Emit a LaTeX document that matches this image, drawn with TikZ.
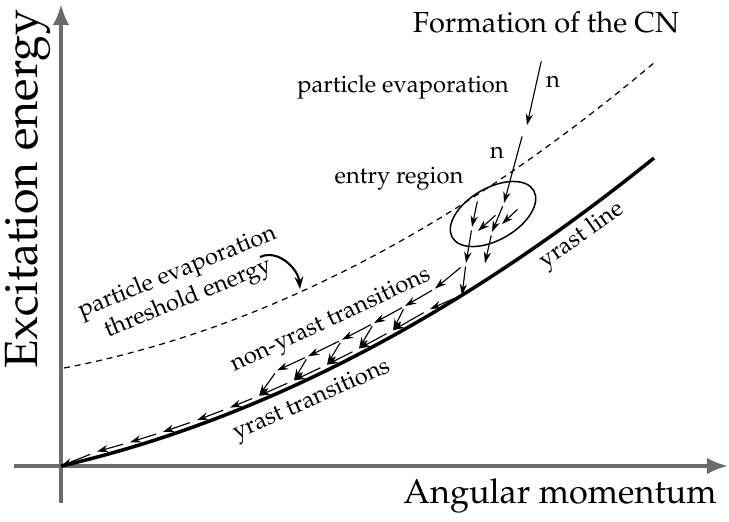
\documentclass[tikz,border=0pt]{standalone}
\usepackage[T1]{fontenc}
\usepackage{mathpazo}
\usetikzlibrary{arrows.meta}
\definecolor{axisgray}{HTML}{6B6B6B}
\tikzset{
  declare function={yr(\x)=466-23.08*((\x-61)/100)-4.87*((\x-61)/100)^2;},
  lbl/.style={font=\fontsize{13.5}{16}\selectfont},
  axlbl/.style={font=\fontsize{19.5}{22}\selectfont},
  axis/.style={draw=axisgray,line width=2.2pt,-{Latex[length=12pt,width=9.5pt]}},
  gam/.style={line width=0.65pt,shorten <=2pt,-{Stealth[length=6.4pt,width=4.2pt]}},
  ygam/.style={gam,shorten <=4.2pt},
}
\begin{document}
\begin{tikzpicture}[x=0.2mm,y=-0.2mm]
  \useasboundingbox (0,0) rectangle (729,521);
  % axes
  \coordinate (O) at (61,466);
  \coordinate (ybot) at (61,503);
  \coordinate (ytop) at (61,4);
  \coordinate (xleft) at (14,466);
  \coordinate (xright) at (728,466);
  \draw[axis] (ybot) -- (ytop);
  \draw[axis] (xleft) -- (xright);
  \node[axlbl,font=\fontsize{26.5}{30}\selectfont,rotate=90] (elbl) at (28,189) {Excitation energy};
  \node[axlbl] (jlbl) at (560,496) {Angular momentum};
  % yrast line and evaporation threshold
  \draw[line width=2pt] (O) .. controls (258.7,420.4) and (456.3,317.7) .. (654,158);
  \draw[line width=0.7pt,dash pattern=on 3.4pt off 2.8pt]
    (64,368) .. controls (261,330.4) and (458,228.4) .. (655,62);
  % labels
  \node[font=\fontsize{16.5}{19}\selectfont] (cn) at (546,22) {Formation of the CN};
  \node[lbl] (pe) at (403,87) {particle evaporation};
  \node[lbl] (n1) at (553,82) {n};
  \node[lbl] (n2) at (497,153) {n};
  \node[lbl] (entry) at (399,179) {entry region};
  \node[lbl,rotate=22,align=center] (thr) at (183,286) {particle evaporation\\threshold energy};
  \node[lbl,rotate=25] (nonyr) at (331,321) {non-yrast transitions};
  \node[lbl,rotate=24] (yrtr) at (312,401) {yrast transitions};
  \node[lbl,rotate=35] (yrl) at (582,236) {yrast line};
  \draw[line width=1.2pt,-{Stealth[length=7pt,width=5pt]}] (260,257) to[out=25,in=95] (300,289);
  % entry region
  \draw[line width=0.85pt,rotate around={30:(493,214)}] (493,214) ellipse[x radius=47,y radius=26];
  % neutron emission
  \coordinate (N0) at (542,58);
  \coordinate (N1) at (527,125);
  \coordinate (N2) at (523,133);
  \coordinate (N3) at (504,203);
  \draw[gam] (N0) -- (N1);
  \draw[gam] (N2) -- (N3);
  % gammas inside the entry region
  \coordinate (A0) at (478,198);
  \coordinate (A1) at (472,227);
  \coordinate (B0) at (498,213);
  \coordinate (B1) at (478,231);
  \coordinate (C1) at (492,232);
  \coordinate (D0) at (520,207);
  \coordinate (D1) at (502,224);
  \coordinate (E1) at (466,263);
  \coordinate (F1) at (485,263);
  \draw[gam] (A0) -- (A1);
  \draw[gam] (B0) -- (B1);
  \draw[gam] (N3) -- (C1);
  \draw[gam] (D0) -- (D1);
  \draw[gam] (A1) -- (E1);
  \draw[gam] (C1) -- (F1);
  % yrast transitions
  \coordinate (Y1) at (462,{yr(462)});
  \foreach \xx [count=\i from 2] in {430,393,359,327,294,259,230,197,163,130,97}
    \coordinate (Y\i) at ({\xx},{yr(\xx)-5.5});
  \coordinate (Y13) at (O);
  \foreach \i [evaluate=\i as \j using int(\i+1)] in {1,...,12}
    \draw[ygam] (Y\i) -- (Y\j);
  % non-yrast transitions
  \foreach \xx [count=\i] in {435,405,374,342,308,277}
    \coordinate (U\i) at ({\xx},{yr(\xx)-23});
  \draw[gam] (E1) -- (Y1);
  \draw[gam,shorten <=4pt] (E1) -- (U1);
  \foreach \i [evaluate=\i as \j using int(\i+1)] in {1,...,5}
    \draw[gam] (U\i) -- (U\j);
  \draw[gam] (U2) -- (Y3);
  \draw[gam] (U3) -- (Y4);
  \draw[gam] (U4) -- (Y5);
  \draw[gam] (U5) -- (Y6);
  \draw[gam] (U6) -- (Y7);
\end{tikzpicture}
\end{document}
